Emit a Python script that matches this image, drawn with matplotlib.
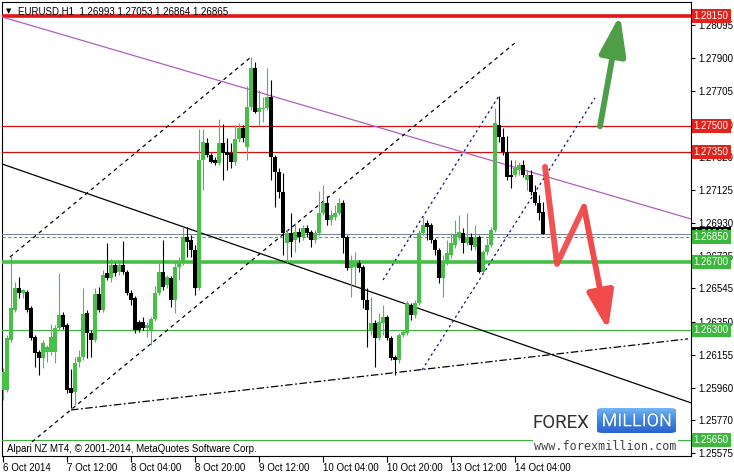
import numpy as np
import matplotlib
matplotlib.use('Agg')
import matplotlib.pyplot as plt
import matplotlib.patheffects as pe
from matplotlib.transforms import blended_transform_factory
from matplotlib.colors import LinearSegmentedColormap
from matplotlib.patches import FancyBboxPatch

plt.rcParams['font.family'] = ['Liberation Sans', 'DejaVu Sans']

# EURUSD H1 bars (first bar = 6 Oct 20:00)
opens = [
    1.25947, 1.25947, 1.26242, 1.26418, 1.26548, 1.26518, 1.26524, 1.26430, 1.26259, 1.26171,
    1.26135, 1.26171, 1.26171, 1.26171, 1.26312, 1.26389, 1.26330, 1.25959, 1.25935, 1.26112,
    1.26141, 1.26400, 1.26283, 1.26242, 1.26513, 1.26418, 1.26636, 1.26607, 1.26683, 1.26642,
    1.26683, 1.26642, 1.26518, 1.26489, 1.26348, 1.26348, 1.26312, 1.26300, 1.26365, 1.26518,
    1.26642, 1.26566, 1.26607, 1.26477, 1.26672, 1.26695, 1.26848, 1.26831, 1.26772, 1.26548,
    1.27302, 1.27402, 1.27331, 1.27302, 1.27284, 1.27402, 1.27349, 1.27343, 1.27290, 1.27426,
    1.27490, 1.27378, 1.27614, 1.27844, 1.27585, 1.27602, 1.27608, 1.27673, 1.27320, 1.27231,
    1.27113, 1.26813, 1.26872, 1.26831, 1.26878, 1.26848, 1.26901, 1.26878, 1.26831, 1.26872,
    1.26990, 1.27049, 1.26948, 1.26966, 1.26990, 1.27049, 1.26848, 1.26666, 1.26672, 1.26695,
    1.26672, 1.26477, 1.26300, 1.26342, 1.26253, 1.26342, 1.26377, 1.26253, 1.26141, 1.26124,
    1.26271, 1.26283, 1.26448, 1.26389, 1.26459, 1.26872, 1.26931, 1.26919, 1.26831, 1.26772,
    1.26607, 1.26701, 1.26742, 1.26801, 1.26848, 1.26872, 1.26813, 1.26848, 1.26789, 1.26848,
    1.26642, 1.26760, 1.26801, 1.26889, 1.27508, 1.27437, 1.27349, 1.27214, 1.27214, 1.27243,
    1.27272, 1.27184, 1.27214, 1.27113, 1.27049, 1.26993]
highs = [
    1.26077, 1.26271, 1.26736, 1.26583, 1.26613, 1.26542, 1.26536, 1.26442, 1.26271, 1.26183,
    1.26242, 1.26212, 1.26336, 1.26330, 1.26636, 1.26407, 1.26342, 1.26071, 1.26141, 1.26183,
    1.26548, 1.26418, 1.26300, 1.26548, 1.26554, 1.26654, 1.26813, 1.26719, 1.26695, 1.26701,
    1.26824, 1.26654, 1.26536, 1.26501, 1.26360, 1.26377, 1.26348, 1.26377, 1.26560, 1.26695,
    1.26831, 1.26624, 1.26618, 1.26701, 1.26730, 1.26907, 1.26907, 1.26860, 1.26801, 1.27484,
    1.27484, 1.27431, 1.27343, 1.27320, 1.27543, 1.27514, 1.27431, 1.27402, 1.27508, 1.27520,
    1.27508, 1.27737, 1.27909, 1.27879, 1.27714, 1.27673, 1.27844, 1.27773, 1.27331, 1.27255,
    1.27225, 1.26889, 1.26990, 1.26931, 1.26901, 1.26919, 1.26919, 1.26889, 1.26889, 1.27119,
    1.27154, 1.27090, 1.27007, 1.27037, 1.27078, 1.27066, 1.26860, 1.26742, 1.26760, 1.26713,
    1.26683, 1.26548, 1.26495, 1.26360, 1.26400, 1.26448, 1.26389, 1.26265, 1.26153, 1.26283,
    1.26300, 1.26471, 1.26459, 1.26477, 1.26889, 1.26966, 1.26948, 1.26931, 1.26842, 1.26784,
    1.26742, 1.26831, 1.26872, 1.26948, 1.26978, 1.26901, 1.26990, 1.26872, 1.26919, 1.26860,
    1.26772, 1.26842, 1.26907, 1.27608, 1.27679, 1.27490, 1.27443, 1.27302, 1.27302, 1.27290,
    1.27302, 1.27243, 1.27243, 1.27154, 1.27096, 1.27053]
lows = [
    1.25888, 1.25935, 1.26230, 1.26407, 1.26489, 1.26489, 1.26407, 1.26242, 1.26083, 1.26035,
    1.26077, 1.26112, 1.26153, 1.26106, 1.26300, 1.26306, 1.25930, 1.25841, 1.25859, 1.26083,
    1.26124, 1.26135, 1.26141, 1.26230, 1.26407, 1.26407, 1.26595, 1.26583, 1.26618, 1.26624,
    1.26630, 1.26507, 1.26448, 1.26283, 1.26289, 1.26300, 1.26259, 1.26212, 1.26354, 1.26507,
    1.26536, 1.26548, 1.26436, 1.26400, 1.26595, 1.26683, 1.26730, 1.26730, 1.26507, 1.26536,
    1.27125, 1.27320, 1.27284, 1.27272, 1.27272, 1.27184, 1.27243, 1.27255, 1.27272, 1.27408,
    1.27408, 1.27302, 1.27596, 1.27579, 1.27508, 1.27526, 1.27596, 1.27184, 1.27025, 1.27078,
    1.26742, 1.26695, 1.26730, 1.26760, 1.26819, 1.26831, 1.26848, 1.26789, 1.26813, 1.26860,
    1.26978, 1.26919, 1.26919, 1.26948, 1.26978, 1.26754, 1.26654, 1.26495, 1.26566, 1.26642,
    1.26430, 1.26200, 1.26271, 1.26083, 1.26242, 1.26271, 1.26242, 1.26124, 1.26035, 1.26106,
    1.26259, 1.26271, 1.26360, 1.26371, 1.26448, 1.26860, 1.26831, 1.26813, 1.26742, 1.26577,
    1.26495, 1.26683, 1.26725, 1.26784, 1.26831, 1.26754, 1.26801, 1.26772, 1.26772, 1.26636,
    1.26636, 1.26742, 1.26789, 1.26878, 1.27408, 1.27331, 1.27184, 1.27137, 1.27202, 1.27214,
    1.27202, 1.27125, 1.27096, 1.27037, 1.26948, 1.26864]
closes = [
    1.26053, 1.26253, 1.26430, 1.26548, 1.26518, 1.26536, 1.26418, 1.26253, 1.26165, 1.26135,
    1.26224, 1.26200, 1.26259, 1.26312, 1.26389, 1.26318, 1.25947, 1.25930, 1.26106, 1.26141,
    1.26395, 1.26283, 1.26242, 1.26513, 1.26418, 1.26624, 1.26607, 1.26683, 1.26636, 1.26683,
    1.26642, 1.26518, 1.26477, 1.26300, 1.26300, 1.26312, 1.26330, 1.26365, 1.26518, 1.26642,
    1.26554, 1.26613, 1.26477, 1.26672, 1.26695, 1.26848, 1.26819, 1.26772, 1.26548, 1.27302,
    1.27408, 1.27331, 1.27290, 1.27284, 1.27402, 1.27343, 1.27331, 1.27290, 1.27426, 1.27490,
    1.27431, 1.27614, 1.27844, 1.27585, 1.27608, 1.27608, 1.27673, 1.27320, 1.27231, 1.27113,
    1.26872, 1.26872, 1.26819, 1.26878, 1.26848, 1.26901, 1.26872, 1.26831, 1.26872, 1.26990,
    1.27049, 1.26948, 1.26978, 1.26990, 1.27049, 1.26842, 1.26666, 1.26695, 1.26695, 1.26666,
    1.26477, 1.26418, 1.26342, 1.26253, 1.26348, 1.26377, 1.26253, 1.26135, 1.26124, 1.26271,
    1.26289, 1.26459, 1.26389, 1.26459, 1.26872, 1.26919, 1.26907, 1.26831, 1.26772, 1.26607,
    1.26701, 1.26754, 1.26813, 1.26860, 1.26878, 1.26813, 1.26848, 1.26801, 1.26848, 1.26642,
    1.26760, 1.26801, 1.26889, 1.27520, 1.27437, 1.27349, 1.27202, 1.27202, 1.27255, 1.27272,
    1.27214, 1.27214, 1.27113, 1.27049, 1.26990, 1.26865]

time_bars = [0, 16, 32, 48, 64, 80, 96, 112, 128]
time_labels = ['6 Oct 2014', '7 Oct 12:00', '8 Oct 04:00', '8 Oct 20:00', '9 Oct 12:00',
               '10 Oct 04:00', '10 Oct 20:00', '13 Oct 12:00', '14 Oct 04:00']
price_ticks = [1.28095, 1.27900, 1.27705, 1.27510, 1.27320, 1.27125, 1.26930,
               1.26735, 1.26545, 1.26350, 1.26155, 1.25960, 1.25770, 1.25575]

# horizontal levels
red_thick = 1.28150
red_levels = [1.27500, 1.27350]
green_thick = 1.26700
green_levels = [1.26300, 1.25650]
green_dashed = 1.26850
bid = 1.26865
box_levels = [1.28150, 1.27500, 1.27350, 1.26865, 1.26850, 1.26700, 1.26300, 1.25650]
box_colors = ['#e3221c', '#e3221c', '#e3221c', 'black', '#3cb83c', '#3cb83c', '#3cb83c', '#3cb83c']

# trend lines (bar index, price)
purple_line = ([-0.25, 172], [1.28144, 1.26954])
black_line = ([-0.25, 172], [1.27278, 1.25871])
base_line = ([17, 171.25], [1.25829, 1.26248])
chan_up = ([1.75, 61.75], [1.26730, 1.27903])
chan_low = ([7.25, 128], [1.25641, 1.27991])
navy_up = ([95, 124], [1.26595, 1.27679])
navy_low = ([104.75, 148], [1.26065, 1.27667])

# forecast arrows
green_arrow = ([149.25, 154.25], [1.27500, 1.28156])
red_path = ([135.5, 138.5, 145.25, 151.25], [1.27261, 1.26689, 1.27025, 1.26300])

GREEN = '#46c046'

fig = plt.figure(figsize=(7.34, 4.75), dpi=100, facecolor='white')
ax = fig.add_axes([2 / 734, 1 - 456 / 475, 689 / 734, 454 / 475])
ax.set_xlim(-0.25, 172)
ax.set_ylim(1.25558, 1.28232)

# candles
x = np.arange(len(opens))
o = np.array(opens); c = np.array(closes)
up = c >= o
cols = np.where(up, GREEN, 'black')
ax.vlines(x, lows, highs, colors=cols, lw=0.8, zorder=4)
ax.bar(x, np.maximum(np.abs(c - o), 0.00004), bottom=np.minimum(o, c),
       width=0.8, color=cols, lw=0, zorder=5)

# levels
ax.axhline(red_thick, color='#e41515', lw=2.6, zorder=3)
for lv in red_levels:
    ax.axhline(lv, color='#d01010', lw=0.9, zorder=3)
ax.axhline(green_thick, color='#44c044', lw=2.6, zorder=3)
for lv in green_levels:
    ax.axhline(lv, color='#3cb43c', lw=0.8, zorder=3)
ax.axhline(green_dashed, color='#3cb43c', lw=0.8, ls=(0, (3, 2)), zorder=3)
ax.axhline(bid, color='#7a8898', lw=0.8, zorder=3)

# trend lines
ax.plot(*purple_line, color='#b35cc2', lw=0.9, zorder=3)
ax.plot(*black_line, color='black', lw=0.9, zorder=3)
ax.plot(*base_line, color='black', lw=0.9, ls=(0, (6, 2, 1.5, 2)), zorder=3)
ax.plot(*chan_up, color='black', lw=0.9, ls=(0, (3, 3)), zorder=3)
ax.plot(*chan_low, color='black', lw=0.9, ls=(0, (3, 3)), zorder=3)
ax.plot(*navy_up, color='#141480', lw=0.9, ls=(0, (2, 2.5)), zorder=3)
ax.plot(*navy_low, color='#141480', lw=0.9, ls=(0, (2, 2.5)), zorder=3)

# arrows
ax.annotate('', xy=(green_arrow[0][1], green_arrow[1][1]),
            xytext=(green_arrow[0][0], green_arrow[1][0]),
            arrowprops=dict(arrowstyle='-|>,head_length=1.2,head_width=0.4',
                            lw=4.2, color='#4d9e47', mutation_scale=20,
                            shrinkA=0, shrinkB=0), zorder=8)
ax.plot(red_path[0][:3], red_path[1][:3], color='#f04a4a', lw=4.2, alpha=0.95,
        solid_joinstyle='round', solid_capstyle='round', zorder=8)
ax.annotate('', xy=(red_path[0][3], red_path[1][3]),
            xytext=(red_path[0][2], red_path[1][2]),
            arrowprops=dict(arrowstyle='-|>,head_length=1.15,head_width=0.4',
                            lw=4.2, color='#f04a4a', mutation_scale=20,
                            shrinkA=0, shrinkB=0), zorder=8)

# axes styling
for s in ax.spines.values():
    s.set_color('black')
    s.set_linewidth(0.8)
ax.yaxis.tick_right()
ax.set_yticks(price_ticks)
ax.set_yticklabels([f'{p:.5f}' for p in price_ticks])
ax.tick_params(axis='y', length=3, pad=2, labelsize=7, width=0.8)
ax.set_xticks(time_bars)
ax.set_xticklabels(time_labels, ha='left')
ax.tick_params(axis='x', length=4, pad=1, labelsize=7, width=0.8)

tr = blended_transform_factory(ax.transAxes, ax.transData)
for lv, col in zip(box_levels, box_colors):
    ax.text(1.004, lv, f'{lv:.5f}', transform=tr, ha='left', va='center',
            color='white', fontsize=7,
            bbox=dict(boxstyle='square,pad=0.2', fc=col, ec='none'),
            clip_on=False, zorder=10)

# header and footer texts
fig.text(6 / 734, 1 - 13 / 475, '\u25bc', fontsize=5, family='DejaVu Sans', va='baseline')
fig.text(18 / 734, 1 - 14 / 475, 'EURUSD,H1  1.26993 1.27053 1.26864 1.26865',
         fontsize=7, va='baseline')
fig.text(7 / 734, 1 - 452 / 475, 'Alpari NZ MT4, \u00a9 2001-2014, MetaQuotes Software Corp.',
         fontsize=7, va='baseline')

# logo
fig.text(533 / 734, 1 - 428 / 475, 'FOREX', fontsize=13.5, family='Roboto',
         fontweight='normal', color='#303030', va='baseline')
lax = fig.add_axes([597 / 734, 1 - 433 / 475, 79 / 734, 25 / 475])
lax.axis('off')
grad = np.linspace(0, 1, 60).reshape(-1, 1)
cmap = LinearSegmentedColormap.from_list('m', ['#74b6f2', '#3f86e2', '#2c62cf'])
im = lax.imshow(grad, aspect='auto', cmap=cmap, extent=[0, 1, 0, 1])
clip = FancyBboxPatch((0, 0), 1, 1, boxstyle='round,pad=0,rounding_size=0.08',
                      transform=lax.transAxes, fc='none', ec='none')
lax.add_patch(clip)
im.set_clip_path(clip)
lax.text(0.5, 0.47, 'MILLION', color='white', ha='center', va='center', fontsize=13,
         family='Roboto', fontweight='normal',
         path_effects=[pe.withStroke(linewidth=0.8, foreground='#3a74c8')])
fig.text(534 / 734, 1 - 450 / 475, 'www.forexmillion.com', fontsize=8.5,
         family='DejaVu Sans Mono', color='#444444', va='baseline',
         bbox=dict(boxstyle='square,pad=0.1', fc='white', ec='none'))

fig.savefig('out.png', dpi=100, facecolor='white')
